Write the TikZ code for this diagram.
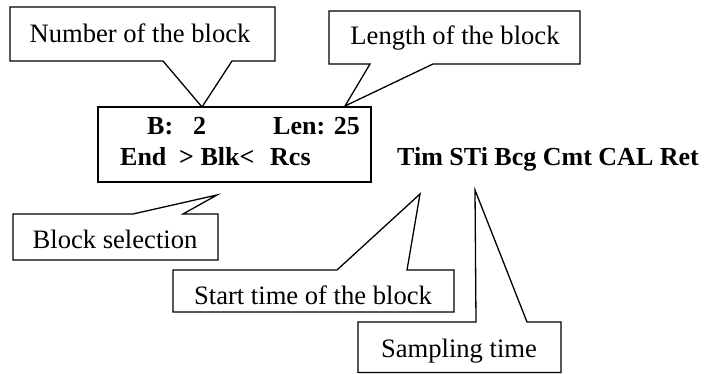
\documentclass[tikz,border=0pt]{standalone}
\usepackage{fontspec}
\setmainfont{Liberation Serif}
\begin{document}
\begin{tikzpicture}[x=1pt,y=-1pt,
  callout/.style={draw=black,line width=1.3pt,fill=white,line join=miter},
  lbl/.style={inner sep=0pt,anchor=base,font=\fontsize{26.6}{30}\selectfont},
  lcd/.style={inner sep=0pt,anchor=base west,font=\fontsize{26}{30}\selectfont\bfseries}]
\useasboundingbox (0,0) rectangle (706,374);
% main display box
\draw[callout] (98,107) rectangle (371,182);
\node[lcd] (b) at (147,135) {B:};
\node[lcd] (bn) at (193,135) {2};
\node[lcd] (len) at (273,135) {Len: 25};
\node[lcd] (end) at (120,166) {End};
\node[lcd] (blk) at (179,166) {> Blk<};
\node[lcd] (rcs) at (270,166) {Rcs};
\node[lcd] (menu) at (397,166) {Tim STi Bcg Cmt CAL Ret};
% tips
\coordinate (t1) at (202,107);
\coordinate (t2) at (345,106);
\coordinate (t3) at (217,195);
\coordinate (t4) at (420,194);
\coordinate (t5) at (475,190);
% callouts
\draw[callout] (10,7) -- (275,7) -- (275,61) -- (232,61) -- (t1) -- (163,61) -- (10,61) -- cycle;
\node[lbl] (n1) at (140,43) {Number of the block};
\draw[callout] (329,11) -- (580,11) -- (580,64) -- (433,64) -- (t2) -- (370,64) -- (329,64) -- cycle;
\node[lbl] (n2) at (455,45) {Length of the block};
\draw[callout] (13,214) -- (133,214) -- (t3) -- (183,214) -- (218,214) -- (218,260) -- (13,260) -- cycle;
\node[lbl] (n3) at (115,248) {Block selection};
\draw[callout] (173,270) -- (337,270) -- (t4) -- (407,270) -- (454,270) -- (454,312) -- (173,312) -- cycle;
\node[lbl] (n4) at (313,304) {Start time of the block};
\draw[callout] (358,322) -- (476,322) -- (t5) -- (527,322) -- (561,322) -- (561,372.5) -- (358,372.5) -- cycle;
\node[lbl] (n5) at (459,357) {Sampling time};
\end{tikzpicture}
\end{document}
